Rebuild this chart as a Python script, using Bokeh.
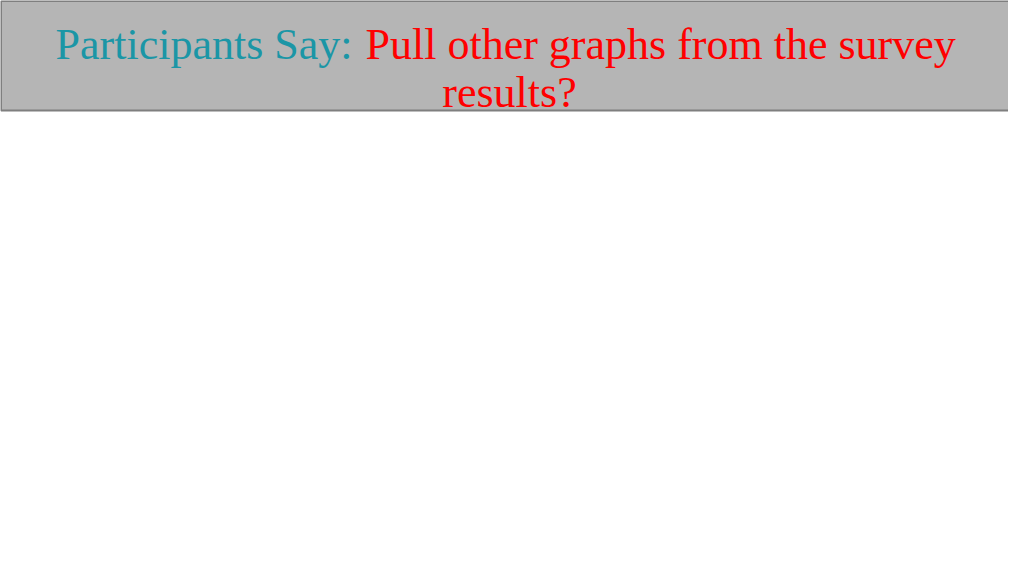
from bokeh.plotting import figure
from bokeh.models import Range1d
from bokeh.embed import file_html
from bokeh.resources import INLINE
from bokeh.core.properties import value

# Slide content (text only; the slide holds no chart data)
title_lead = ["Participants Say:"]
title_rest = ["Pull other graphs from the survey"]
title_line2 = ["results?"]

W, H = 1008, 560
p = figure(width=W, height=H, output_backend="svg", toolbar_location=None,
           x_range=Range1d(0, W), y_range=Range1d(H, 0),
           min_border=0, background_fill_color="white", border_fill_color="white")
p.axis.visible = False
p.grid.visible = False
p.outline_line_color = None

# banner
p.quad(left=0.5, right=1023, top=0.5, bottom=110,
       fill_color="#b5b5b5", line_color="#7f7f7f", line_width=2)

font = value("Liberation Serif")
p.text(x=[352], y=[44], text=title_lead, text_color="#1b96a6",
       text_font=font, text_font_size="44px", text_align="right",
       text_baseline="alphabetic")
p.text(x=[365], y=[44], text=title_rest, text_color="#ff0000",
       text_font=font, text_font_size="44px", text_align="left",
       text_baseline="alphabetic")
p.text(x=[509], y=[92], text=title_line2, text_color="#ff0000",
       text_font=font, text_font_size="44px", text_align="center",
       text_baseline="alphabetic")

open("out.html", "w").write(file_html(p, INLINE))
